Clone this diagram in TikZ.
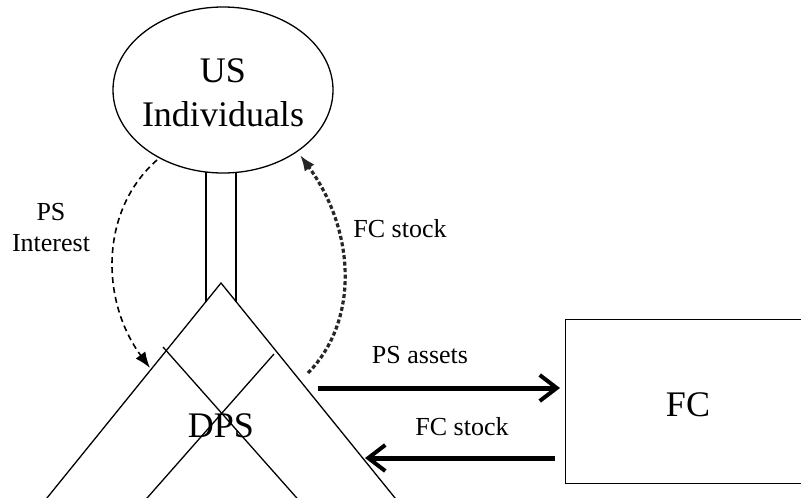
\documentclass[tikz,border=0pt]{standalone}
\usepackage{fontspec}
\setmainfont{Liberation Serif}
\usetikzlibrary{shapes.geometric,arrows.meta}
\tikzset{
  big/.style={font=\fontsize{36}{44}\selectfont, inner sep=0pt},
  small/.style={font=\fontsize{26}{31}\selectfont, inner sep=0pt},
  thin/.style={line width=1.3pt},
  flowarrow/.style={line width=5pt, -{Straight Barb[length=17pt,width=26pt,line width=4pt]}},
  dashflow/.style={line width=1.6pt, dash pattern=on 6pt off 4pt, -{Latex[length=16pt,width=12pt]}},
  dotflow/.style={line width=3.2pt, black!85, dash pattern=on 4pt off 2.5pt, -{Latex[length=16pt,width=12pt]}},
}
\begin{document}
\begin{tikzpicture}[x=1pt,y=-1pt]
\useasboundingbox (0,0) rectangle (801,498);
\clip (0,0) rectangle (801,498);
\fill[white] (0,0) rectangle (801,498);
% US Individuals
\node[draw, thin, ellipse, minimum width=220pt, minimum height=166pt, inner sep=0pt] (us) at (223,90) {};
\node[big, align=center, anchor=base] (usl) at (223,126) {US\\Individuals};
% stem
\coordinate (s1t) at (206,172); \coordinate (s1b) at (206,301.5);
\coordinate (s2t) at (236,172); \coordinate (s2b) at (236,301.5);
\draw[thin] (s1t) -- (s1b);
\draw[thin] (s2t) -- (s2b);
% DPS triangle
\coordinate (apex) at (221,283);
\coordinate (bl) at (34,514);
\coordinate (br) at (408,514);
\draw[thin] (bl) -- (apex) -- (br);
\coordinate (i1a) at (163,347); \coordinate (i1b) at (311,514);
\coordinate (i2a) at (274,354); \coordinate (i2b) at (133,514);
\draw[thin] (i1a) -- (i1b);
\draw[thin] (i2a) -- (i2b);
\node[big, anchor=base] (dps) at (221,437) {DPS};
% FC box
\node[draw, thin, minimum width=260pt, minimum height=164pt, anchor=north west, inner sep=0pt] (fc) at (565,319) {};
\node[big, anchor=base] (fcl) at (688,416) {FC};
% horizontal arrows
\coordinate (a1s) at (318,388); \coordinate (a1e) at (560,388);
\draw[flowarrow] (a1s) -- (a1e);
\coordinate (a2s) at (555,458); \coordinate (a2e) at (365,458);
\draw[flowarrow] (a2s) -- (a2e);
\node[small, anchor=base] (psa) at (420,363) {PS assets};
\node[small, anchor=base] (fcs2) at (462,435) {FC stock};
% curved arrows
\coordinate (c1s) at (157,160); \coordinate (c1e) at (150,368);
\draw[dashflow] (c1s) .. controls (100,210) and (100,300) .. (c1e);
\coordinate (c2s) at (308,373); \coordinate (c2e) at (300,155);
\draw[dotflow] (c2s) .. controls (360,320) and (355,230) .. (c2e);
\node[small, align=center, anchor=base] (psi) at (51,251) {PS\\Interest};
\node[small, anchor=base] (fcs1) at (400,237) {FC stock};
\end{tikzpicture}
\end{document}
